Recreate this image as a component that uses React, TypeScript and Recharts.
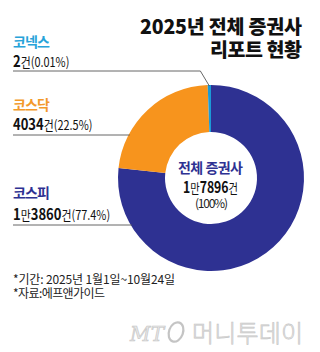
import { Cell, Pie, PieChart } from "recharts";

// 2025년 1월1일~10월24일 증권사 리포트 건수 (시장별)
const markets = ["코스피", "코스닥", "코넥스"];
const counts = [13860, 4034, 2];
const shares = ["77.4", "22.5", "0.01"];
const total = 17896;

const COLORS = ["#2e3192", "#f7941d", "#1b9ad6"];
const NAME_COLORS = ["#2e3192", "#f39a2b", "#27a3d9"];
const FONT = '"Noto Sans CJK KR", "Noto Sans", sans-serif';

// 레이블 행 위치 (이름 기준선, 수치 기준선, 지시선)
const ROWS = [
  { nameY: 198, valueY: 220, lineY: 225 },
  { nameY: 110, valueY: 130, lineY: 135 },
  { nameY: 47, valueY: 67, lineY: 71 }
];

const CX = 211;
const CY = 178;
const OUTER = 93;
const INNER = 46;

const data = markets.map((name, i) => ({ name, value: counts[i] }));

function splitCount(v: number) {
  const man = Math.floor(v / 10000);
  const rest = v % 10000;
  return { man, rest };
}

// 볼드 숫자 + 일반 단위, 가로로 살짝 좁힌 글꼴
function CountText({
  value,
  x,
  y,
  suffix,
  scale = 0.84,
  anchor = "start"
}: {
  value: number;
  x: number;
  y: number;
  suffix: string;
  scale?: number;
  anchor?: "start" | "middle";
}) {
  const { man, rest } = splitCount(value);
  return (
    <g transform={`translate(${x},${y}) scale(${scale},1)`}>
      <text x={0} y={0} fontFamily={FONT} fill="#111" textAnchor={anchor}>
        {man > 0 && (
          <>
            <tspan fontSize={15.5} fontWeight={700}>{man}</tspan>
            <tspan fontSize={13} fontWeight={400}>만</tspan>
          </>
        )}
        <tspan fontSize={15.5} fontWeight={700}>{rest}</tspan>
        <tspan fontSize={13} fontWeight={400}>{suffix}</tspan>
      </text>
    </g>
  );
}

function renderLabel(props: any) {
  const { cx, cy, outerRadius, midAngle, index } = props;
  const row = ROWS[index];
  const r = outerRadius - 1;
  let path: string;
  if (index === 2) {
    const rad = (-midAngle * Math.PI) / 180;
    const ex = cx + r * Math.cos(rad);
    const ey = cy + r * Math.sin(rad);
    path = `M13,${row.lineY} L${ex - 9},${row.lineY} L${ex},${ey}`;
  } else {
    const dy = row.lineY - cy;
    const ex = cx - Math.sqrt(r * r - dy * dy);
    path = `M13,${row.lineY} L${ex},${row.lineY}`;
  }
  return (
    <g key={`lbl-${index}`}>
      <path d={path} stroke="#555" strokeWidth={0.9} fill="none" />
      <text
        x={13}
        y={row.nameY}
        fontFamily={FONT}
        fontSize={14}
        fontWeight={700}
        fill={NAME_COLORS[index]}
        textLength={37}
      >
        {markets[index]}
      </text>
      <CountText value={counts[index]} x={13} y={row.valueY} suffix={`건(${shares[index]}%)`} />
    </g>
  );
}

export default function App() {
  return (
    <div style={{ position: "absolute", left: 0, top: 0, width: 320, height: 352, background: "#fff" }}>
      <PieChart width={320} height={352} margin={{ top: 0, right: 0, bottom: 0, left: 0 }}>
        <Pie
          data={data}
          dataKey="value"
          nameKey="name"
          cx={CX}
          cy={CY}
          innerRadius={INNER}
          outerRadius={OUTER}
          startAngle={90}
          endAngle={-270}
          minAngle={2}
          stroke="none"
          label={renderLabel}
          labelLine={false}
          isAnimationActive={false}
        >
          {data.map((d, i) => (
            <Cell key={d.name} fill={COLORS[i]} />
          ))}
        </Pie>
      </PieChart>
      <svg
        width={320}
        height={352}
        style={{ position: "absolute", left: 0, top: 0, pointerEvents: "none" }}
      >
        <g fontFamily={FONT} fontWeight={900} fontSize={19.5} fill="#111" textAnchor="end">
          <text x={302} y={34} textLength={162}>2025년 전체 증권사</text>
          <text x={302} y={57} textLength={92}>리포트 현황</text>
        </g>
        <g fontFamily={FONT} textAnchor="middle">
          <text x={210.5} y={173} fontSize={14} fontWeight={700} fill="#2e3192" textLength={65}>
            전체 증권사
          </text>
          <CountText value={total} x={210.5} y={193} suffix="건" scale={0.79} anchor="middle" />
          <text x={211.5} y={208} fontSize={12} fill="#222" textLength={33}>
            (100%)
          </text>
        </g>
        <g fontFamily={FONT} fontSize={12} fill="#222">
          <text x={13} y={284} textLength={162}>*기간: 2025년 1월1일~10월24일</text>
          <text x={13} y={298} textLength={92}>*자료:에프앤가이드</text>
        </g>
        <g fill="#e6e6e6" stroke="#c4c4c4" strokeWidth={0.6}>
          <text x={130} y={341} fontFamily="'DejaVu Serif', serif" fontStyle="italic" fontSize={20} textLength={34}>
            MT
          </text>
          <ellipse cx={176} cy={332} rx={7} ry={10} fill="none" strokeWidth={2.2} transform="rotate(20 176 332)" />
          <text x={192} y={342} fontFamily={FONT} fontWeight={300} fontSize={24} textLength={111}>
            머니투데이
          </text>
        </g>
      </svg>
    </div>
  );
}
